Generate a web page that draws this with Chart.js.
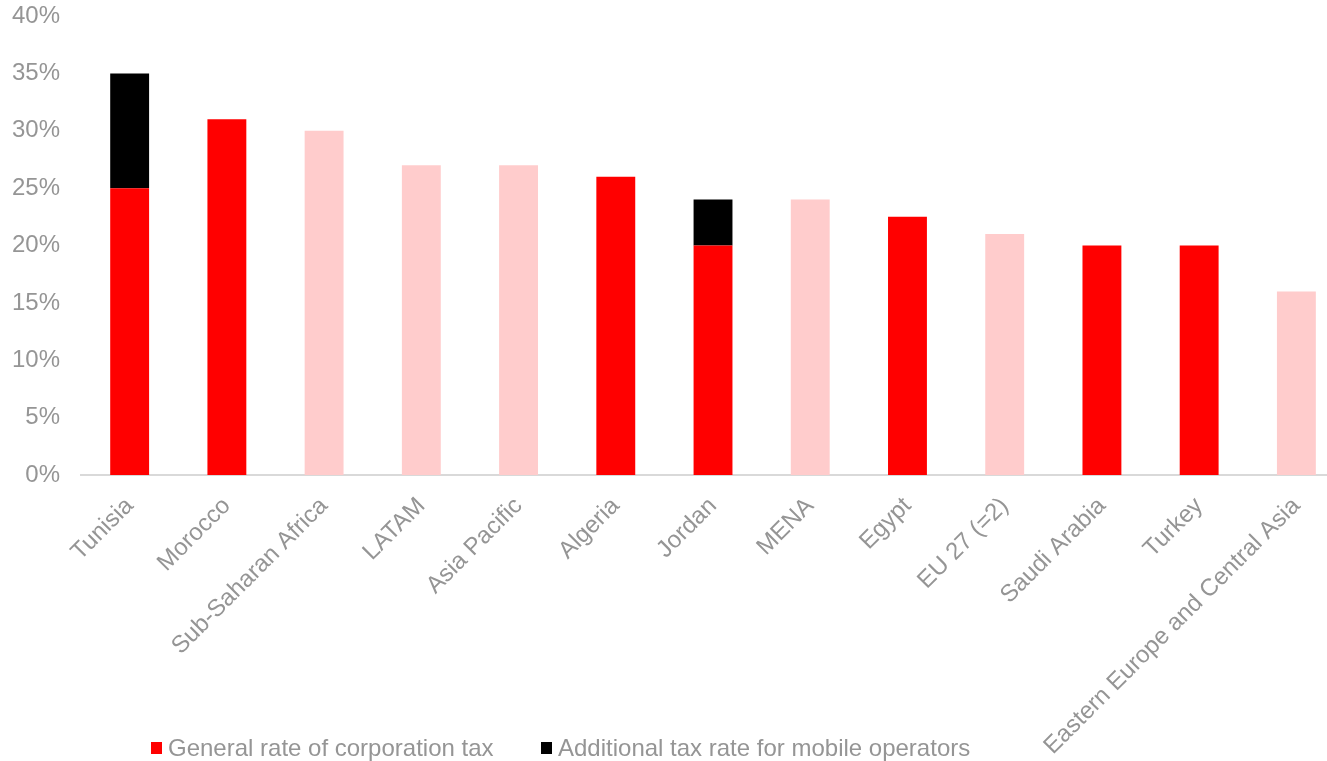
<!DOCTYPE html>
<html>
<head>
<meta charset="utf-8">
<script src="https://cdn.jsdelivr.net/npm/chart.js@4"></script>
<style>
    html, body { margin: 0; padding: 0; background: #fff; overflow: hidden; }
    #wrap { position: relative; width: 1346px; height: 761px; }
    #legend { position: absolute; left: 0; top: 0; }
    .legend-item {
        position: absolute; top: 735px; height: 25px; display: flex; align-items: center;
        font: 24px "Liberation Sans", Arial, sans-serif; color: #959595; white-space: nowrap;
    }
    .legend-box { width: 11px; height: 12px; margin-right: 6px; }
</style>
</head>
<body>
<div id="wrap">
    <canvas id="taxChart"></canvas>
    <div id="legend"></div>
</div>
<script>
    // ==================== DATA ====================
    const categories = ['Tunisia', 'Morocco', 'Sub-Saharan Africa', 'LATAM', 'Asia Pacific', 'Algeria', 'Jordan',
        'MENA', 'Egypt', 'EU 27 (=2)', 'Saudi Arabia', 'Turkey', 'Eastern Europe and Central Asia'];
    const generalRate = [25, 31, 30, 27, 27, 26, 20, 24, 22.5, 21, 20, 20, 16];
    const additionalRate = [10, 0, 0, 0, 0, 0, 4, 0, 0, 0, 0, 0, 0];
    // regional averages are shown in a lighter shade
    const isRegion = [false, false, true, true, true, false, false, true, false, true, false, false, true];
    const yTicks = [0, 5, 10, 15, 20, 25, 30, 35, 40];

    // ==================== STYLE ====================
    const RED = '#ff0000';
    const PINK = '#ffcccc';
    const BLACK = '#000000';
    const GREY_TEXT = '#959595';
    const FONT = { family: '"Liberation Sans", Arial, sans-serif', size: 24 };
    const X_AXIS_HEIGHT = 286;

    const ctx = document.getElementById('taxChart').getContext('2d');
    const taxChart = new Chart(ctx, {
        type: 'bar',
        data: {
            labels: categories,
            datasets: [
                {
                    label: 'General rate of corporation tax',
                    data: generalRate,
                    backgroundColor: isRegion.map(r => r ? PINK : RED),
                    legendColor: RED
                },
                {
                    label: 'Additional tax rate for mobile operators',
                    data: additionalRate,
                    backgroundColor: BLACK,
                    legendColor: BLACK
                }
            ]
        },
        options: {
            responsive: true,
            maintainAspectRatio: false,
            animation: false,
            layout: { padding: { left: 12, top: 16, right: 1, bottom: 0 } },
            datasets: { bar: { barPercentage: 0.4, categoryPercentage: 1, borderWidth: 0 } },
            plugins: { legend: { display: false }, tooltip: { enabled: false } },
            scales: {
                x: {
                    stacked: true,
                    grid: { display: false, drawTicks: false },
                    border: { display: true, color: '#d9d9d9', width: 2 },
                    ticks: {
                        color: GREY_TEXT, font: FONT, autoSkip: false,
                        minRotation: 45, maxRotation: 45, padding: 17
                    },
                    // rotated labels fit inside the page already; keep the plot edges fixed
                    afterFit: axis => {
                        axis.paddingLeft = 0;
                        axis.paddingRight = 0;
                        axis.height = X_AXIS_HEIGHT;
                    }
                },
                y: {
                    stacked: true,
                    min: 0,
                    max: 40,
                    afterBuildTicks: axis => { axis.ticks = yTicks.map(v => ({ value: v })); },
                    grid: { display: false, drawTicks: false },
                    border: { display: false },
                    ticks: { color: GREY_TEXT, font: FONT, padding: 21, callback: v => v + '%' },
                    afterFit: axis => {
                        // fit() reserves the tick padding on both sides; only the inner one is wanted
                        axis.width -= axis.options.ticks.padding;
                        axis.paddingTop = 0;
                        axis.paddingBottom = 0;
                    }
                }
            }
        }
    });

    // ==================== LEGEND ====================
    const legendEl = document.getElementById('legend');
    const legendLeft = [151, 541];
    taxChart.data.datasets.forEach((ds, i) => {
        const item = document.createElement('div');
        item.className = 'legend-item';
        item.style.left = legendLeft[i] + 'px';
        const box = document.createElement('span');
        box.className = 'legend-box';
        box.style.background = ds.legendColor;
        const text = document.createElement('span');
        text.textContent = ds.label;
        item.appendChild(box);
        item.appendChild(text);
        legendEl.appendChild(item);
    });
</script>
</body>
</html>
